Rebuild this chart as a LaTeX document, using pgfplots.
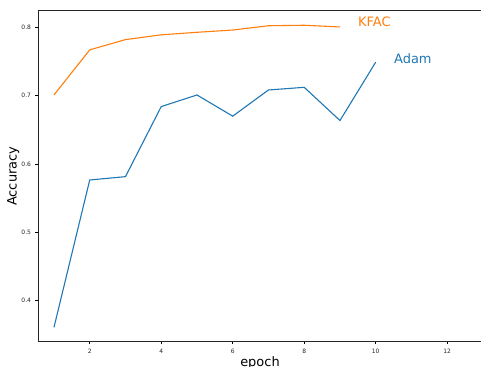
\documentclass[border=0pt]{standalone}
\usepackage{fontspec}
\setmainfont{DejaVu Sans}
\usepackage{pgfplots}
\pgfplotsset{compat=1.18}
\definecolor{tabblue}{HTML}{1F77B4}
\definecolor{taborange}{HTML}{FF7F0E}
\begin{document}
\begin{tikzpicture}
\begin{axis}[
  at={(0,0)}, anchor=south west,
  scale only axis,
  width=448bp, height=331bp,
  xmin=0.553, xmax=13.085,
  ymin=0.340, ymax=0.8243,
  xtick={2,4,6,8,10,12},
  ytick={0.4,0.5,0.6,0.7,0.8},
  yticklabels={0.4,0.5,0.6,0.7,0.8},
  tick align=outside, tick pos=left,
  major tick length=2.5bp,
  every tick/.style={black, line width=0.6bp},
  axis line style={line width=0.9bp, black!85},
  /pgf/number format/assume math mode=true,
  tick label style={font=\fontsize{6}{7}\selectfont, text=black!85},
  xticklabel style={yshift=-1bp},
  yticklabel style={xshift=-1bp},
  xlabel={epoch}, ylabel={Accuracy},
  label style={font=\fontsize{13}{14}\selectfont},
  xlabel style={at={(rel axis cs:0.4955,0)}, anchor=base, yshift=-24.8bp},
  ylabel style={at={(rel axis cs:0,0.5)}, anchor=center, yshift=24.7bp},
]
\addplot[taborange, line width=1.1bp] coordinates {
(1,0.701) (2,0.767) (3,0.782) (4,0.789) (5,0.7927) (6,0.796) (7,0.8023) (8,0.803) (9,0.8005)};
\addplot[tabblue, line width=1.1bp] coordinates {
(1,0.361) (2,0.5766) (3,0.5815) (4,0.684) (5,0.701) (6,0.670) (7,0.7083) (8,0.7122) (9,0.6636) (10,0.749)};
\node[anchor=west, text=taborange, font=\fontsize{13}{14}\selectfont, inner sep=0pt] at (axis cs:9.503,0.8078) {KFAC};
\node[anchor=west, text=tabblue, font=\fontsize{13}{14}\selectfont, inner sep=0pt] at (axis cs:10.51,0.754) {Adam};
\end{axis}
\pgfresetboundingbox
\path[use as bounding box] (-38bp,-25.3bp) rectangle (443bp,341.7bp);
\end{tikzpicture}
\end{document}
